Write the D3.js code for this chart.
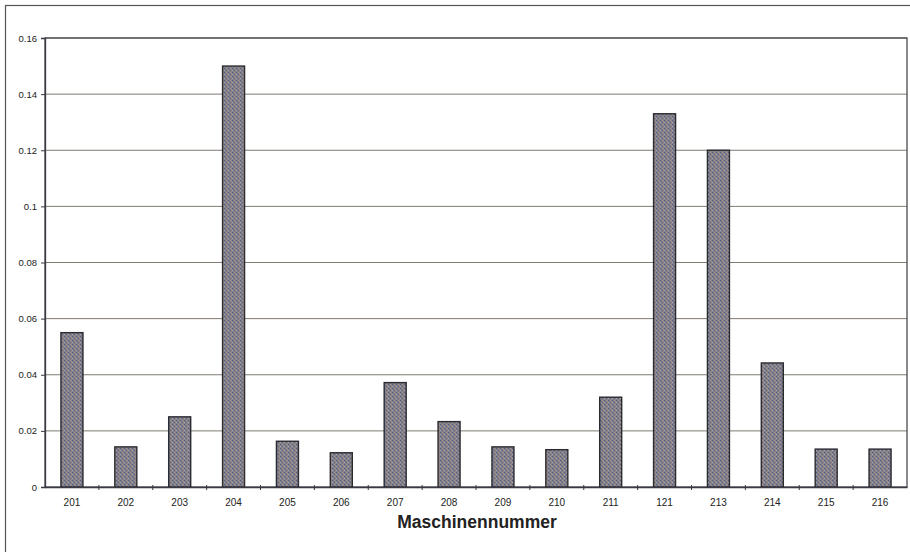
<!DOCTYPE html>
<html><head><meta charset="utf-8">
<script src="https://cdn.jsdelivr.net/npm/d3@7"></script>
<style>html,body{margin:0;padding:0;background:#fff;}svg{display:block;}</style>
</head><body>
<svg id="chart" width="910" height="552"></svg>
<script>
const categories = ["201","202","203","204","205","206","207","208","209","210","211","121","213","214","215","216"];
const values = [0.055,0.0143,0.025,0.150,0.0163,0.0122,0.0372,0.0233,0.0143,0.0133,0.032,0.133,0.120,0.0442,0.0135,0.0135];
const yTicks = [0,0.02,0.04,0.06,0.08,0.1,0.12,0.14,0.16];
const xTitle = "Maschinennummer";

const svg = d3.select("#chart");
const m = {left:45, top:38, right:907, bottom:487};

// texture pattern for bars
const defs = svg.append("defs");
const pat = defs.append("pattern").attr("id","tex").attr("patternUnits","userSpaceOnUse").attr("width",4).attr("height",4);
pat.append("rect").attr("width",4).attr("height",4).attr("fill","#85818a");
const dots = [[0,0,"#4f5e80"],[2,2,"#56648a"],[2,0,"#a49385"],[0,2,"#ada39c"],[1,1,"#66708e"],[3,3,"#978479"],[1,3,"#7a8098"],[3,1,"#9c8f88"]];
dots.forEach(([px,py,c])=>pat.append("rect").attr("x",px).attr("y",py).attr("width",1).attr("height",1).attr("fill",c));

// outer frame
svg.append("rect").attr("x",5.5).attr("y",5.5).attr("width",912).attr("height",560)
  .attr("fill","none").attr("stroke","#555").attr("stroke-width",1.2);

const x = d3.scaleBand().domain(categories).range([m.left, m.right]).paddingInner(0).paddingOuter(0);
const y = d3.scaleLinear().domain([0,0.16]).range([m.bottom, m.top]);

// gridlines
svg.append("g").selectAll("line").data(yTicks.filter(d=>d>0)).join("line")
  .attr("x1",m.left).attr("x2",m.right)
  .attr("y1",d=>y(d)).attr("y2",d=>y(d))
  .attr("stroke","#7f7a74").attr("stroke-width",1);

// plot border
svg.append("rect").attr("x",m.left).attr("y",m.top).attr("width",m.right-m.left).attr("height",m.bottom-m.top)
  .attr("fill","none").attr("stroke","#4a4a50").attr("stroke-width",1.3);

// bars
const bw = 22;
svg.append("g").selectAll("rect").data(values).join("rect")
  .attr("x",(d,i)=>x(categories[i]) + x.bandwidth()/2 - bw/2)
  .attr("y",d=>y(d))
  .attr("width",bw)
  .attr("height",d=>y(0)-y(d))
  .attr("fill","url(#tex)")
  .attr("stroke","#2a2a30").attr("stroke-width",1.4);

// y axis
const yAxis = d3.axisLeft(y).tickValues(yTicks).tickSize(4).tickPadding(4)
  .tickFormat(d=> d===0 ? "0" : String(+d.toFixed(2)));
const gy = svg.append("g").attr("transform",`translate(${m.left},0)`).call(yAxis);
gy.select(".domain").attr("stroke","#3a3a44").attr("stroke-width",1.3);
gy.selectAll(".tick line").attr("stroke","#3a3a44");
gy.selectAll("text").attr("font-family","Liberation Sans, Arial, sans-serif").attr("font-size",9.5).attr("fill","#222");

// x axis
const xAxis = d3.axisBottom(x).tickSize(0).tickPadding(12);
const gx = svg.append("g").attr("transform",`translate(0,${m.bottom})`).call(xAxis);
gx.select(".domain").attr("stroke","#3a3a44").attr("stroke-width",1.3);
gx.selectAll("text").attr("font-family","Liberation Sans, Arial, sans-serif").attr("font-size",10).attr("fill","#222");
// boundary tick marks
svg.append("g").selectAll("line").data(categories.slice(1)).join("line")
  .attr("x1",d=>x(d)).attr("x2",d=>x(d))
  .attr("y1",m.bottom-2).attr("y2",m.bottom+3)
  .attr("stroke","#3a3a44").attr("stroke-width",1);

// x title
svg.append("text").attr("x",477).attr("y",528)
  .attr("text-anchor","middle")
  .attr("font-family","Liberation Sans, Arial, sans-serif")
  .attr("font-weight","bold").attr("font-size",17.5).attr("fill","#222")
  .text(xTitle);
</script>
</body></html>
